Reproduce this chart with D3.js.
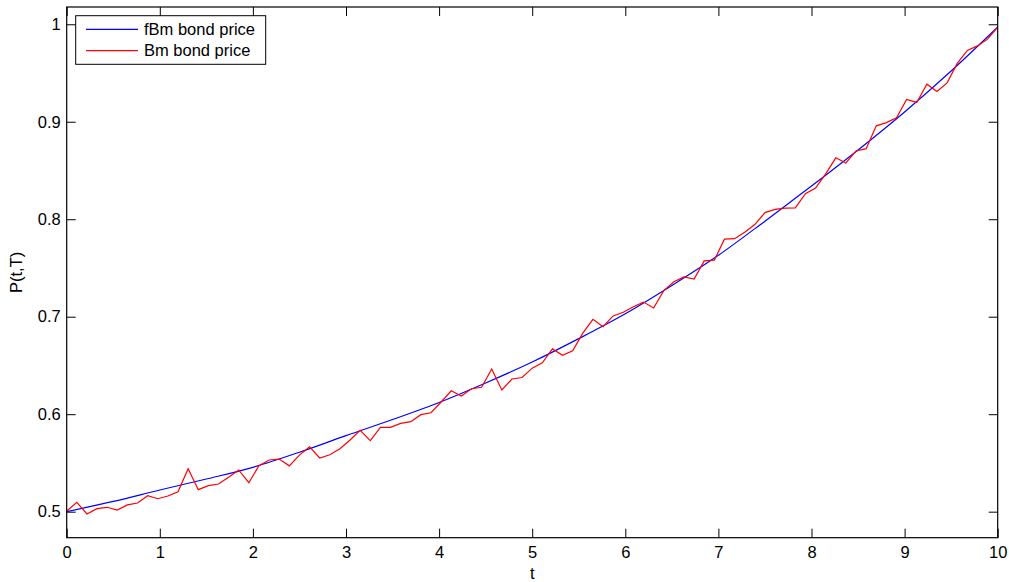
<!DOCTYPE html>
<html>
<head>
<meta charset="utf-8">
<script src="https://cdn.jsdelivr.net/npm/d3@7"></script>
<style>
  html, body { margin: 0; padding: 0; background: #fff; }
  svg text { font-family: "Liberation Sans", Arial, Helvetica, sans-serif; }
</style>
</head>
<body>
<svg id="chart" width="1009" height="582"></svg>
<script>
// Bond price P(t,T) under fractional Brownian motion (smooth) and Brownian motion (noisy)
const fbmTimes = [0, 0.5, 1, 1.5, 2, 2.5, 3, 3.5, 4, 4.5, 5, 5.5, 6, 6.5, 7, 7.5, 8, 8.5, 9, 9.5, 10];
const fbmPrice = [0.5000, 0.5105, 0.5222, 0.5335, 0.5455, 0.5610, 0.5780, 0.5945, 0.6120, 0.6320,
                  0.6535, 0.6775, 0.7030, 0.7320, 0.7630, 0.7980, 0.8340, 0.8710, 0.9100, 0.9520, 0.9970];

// Brownian-motion path sampled on 93 equally spaced times over [0, 10]
const bmPrice = [
  0.5005, 0.5096, 0.4976, 0.5031, 0.5045, 0.5017, 0.5069, 0.5089, 0.5164, 0.5133,
  0.5161, 0.5205, 0.5441, 0.5226, 0.5267, 0.5284, 0.5353, 0.5428, 0.5297, 0.5472,
  0.5530, 0.5540, 0.5470, 0.5580, 0.5665, 0.5551, 0.5584, 0.5646, 0.5735, 0.5835,
  0.5728, 0.5865, 0.5865, 0.5906, 0.5923, 0.5995, 0.6015, 0.6125, 0.6240, 0.6187,
  0.6261, 0.6276, 0.6463, 0.6248, 0.6361, 0.6376, 0.6472, 0.6527, 0.6670, 0.6604,
  0.6650, 0.6832, 0.6973, 0.6897, 0.7008, 0.7045, 0.7102, 0.7150, 0.7089, 0.7268,
  0.7358, 0.7408, 0.7386, 0.7572, 0.7581, 0.7795, 0.7800, 0.7866, 0.7945, 0.8068,
  0.8101, 0.8114, 0.8117, 0.8262, 0.8320, 0.8466, 0.8630, 0.8577, 0.8700, 0.8724,
  0.8958, 0.8991, 0.9040, 0.9228, 0.9198, 0.9385, 0.9310, 0.9399, 0.9598, 0.9731,
  0.9778, 0.9847, 0.9970
];
const tMax = 10;
const bmTimes = bmPrice.map((_, i) => i * tMax / (bmPrice.length - 1));

const xTicks = [0, 1, 2, 3, 4, 5, 6, 7, 8, 9, 10];
const yTicks = [0.5, 0.6, 0.7, 0.8, 0.9, 1.0];
const seriesNames = ["fBm bond price", "Bm bond price"];
const seriesColors = ["#0000ff", "#ff0000"];

const plot = { left: 66.7, right: 997.7, top: 7, bottom: 537.7 };
const svg = d3.select("#chart");

const x = d3.scaleLinear().domain([0, 10]).range([plot.left, plot.right]);
const y = d3.scaleLinear().domain([0.4733, 1.0177]).range([plot.bottom, plot.top]);

const fontSize = 16.5;
const tickLen = 9;

// axes: ticks point inward, mirrored on top and right
const axB = d3.axisBottom(x).tickValues(xTicks).tickSizeInner(-tickLen).tickSizeOuter(0)
  .tickPadding(9).tickFormat(d3.format("d"));
const axT = d3.axisTop(x).tickValues(xTicks).tickSizeInner(-tickLen).tickSizeOuter(0).tickFormat("");
const axL = d3.axisLeft(y).tickValues(yTicks).tickSizeInner(-tickLen).tickSizeOuter(0)
  .tickPadding(6).tickFormat(d => d === 1 ? "1" : d3.format(".1f")(d));
const axR = d3.axisRight(y).tickValues(yTicks).tickSizeInner(-tickLen).tickSizeOuter(0).tickFormat("");

function style(g) {
  g.select(".domain").remove();
  g.selectAll(".tick line").attr("stroke", "#000").attr("stroke-width", 1);
  g.selectAll(".tick text").attr("fill", "#000").style("font-size", fontSize + "px")
    .style("font-family", "'Liberation Sans', Arial, sans-serif");
}

svg.append("g").attr("transform", `translate(0,${plot.bottom})`).call(axB).call(style);
svg.append("g").attr("transform", `translate(0,${plot.top})`).call(axT).call(style);
svg.append("g").attr("transform", `translate(${plot.left},0)`).call(axL).call(style);
svg.append("g").attr("transform", `translate(${plot.right},0)`).call(axR).call(style);

// clip region for the data lines
svg.append("clipPath").attr("id", "plotClip").append("rect")
  .attr("x", plot.left).attr("y", plot.top)
  .attr("width", plot.right - plot.left).attr("height", plot.bottom - plot.top);

const lineG = svg.append("g").attr("clip-path", "url(#plotClip)");

const fbmLine = d3.line().x((d, i) => x(fbmTimes[i])).y(d => y(d)).curve(d3.curveMonotoneX);
const bmLine = d3.line().x((d, i) => x(bmTimes[i])).y(d => y(d));

lineG.append("path").datum(fbmPrice).attr("d", fbmLine)
  .attr("fill", "none").attr("stroke", seriesColors[0]).attr("stroke-width", 1.2);
lineG.append("path").datum(bmPrice).attr("d", bmLine)
  .attr("fill", "none").attr("stroke", seriesColors[1]).attr("stroke-width", 1.2)
  .attr("stroke-linejoin", "miter");

// box around the plot area
svg.append("rect").attr("x", plot.left).attr("y", plot.top)
  .attr("width", plot.right - plot.left).attr("height", plot.bottom - plot.top)
  .attr("fill", "none").attr("stroke", "#000").attr("stroke-width", 1.2);

// axis labels
svg.append("text").attr("x", (plot.left + plot.right) / 2).attr("y", 579)
  .attr("text-anchor", "middle").style("font-size", fontSize + "px").text("t");
svg.append("text")
  .attr("transform", `translate(22,${(plot.top + plot.bottom) / 2}) rotate(-90)`)
  .attr("text-anchor", "middle").style("font-size", fontSize + "px").text("P(t,T)");

// legend
const leg = svg.append("g");
leg.append("rect").attr("x", 75.7).attr("y", 15.7).attr("width", 190).attr("height", 48.6)
  .attr("fill", "#fff").attr("stroke", "#000").attr("stroke-width", 1);
seriesNames.forEach((name, i) => {
  const yy = 29.3 + i * 21.4;
  leg.append("line").attr("x1", 86).attr("x2", 138).attr("y1", yy).attr("y2", yy)
    .attr("stroke", seriesColors[i]).attr("stroke-width", 1.2);
  leg.append("text").attr("x", 144).attr("y", yy).attr("dy", "0.35em")
    .style("font-size", fontSize + "px").text(name);
});
</script>
</body>
</html>
